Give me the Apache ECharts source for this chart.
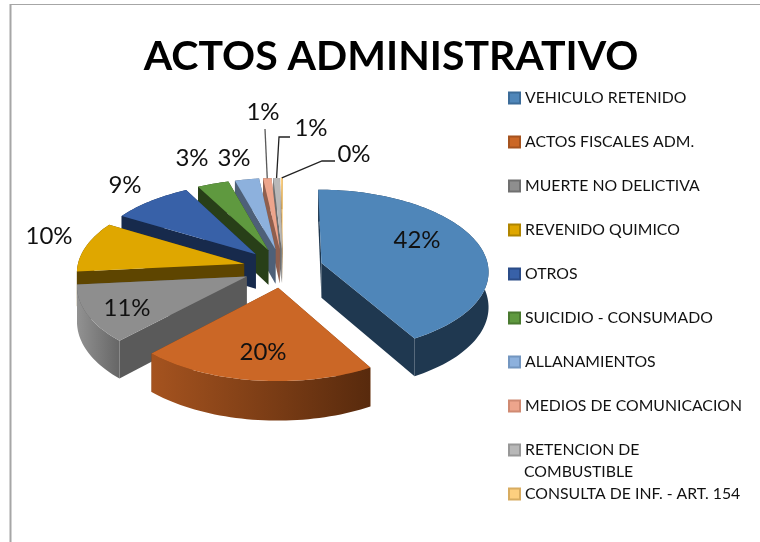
<!DOCTYPE html>
<html lang="es">
<head>
    <meta charset="UTF-8">
    <title>ACTOS ADMINISTRATIVO</title>
    <script src="https://cdn.jsdelivr.net/npm/echarts@6/dist/echarts.min.js"></script>
    <style>
        html, body { margin: 0; background: #fff; }
    </style>
</head>
<body>
    <div id="main" style="width: 760px; height: 542px;"></div>
    <script>
        var categories = ['VEHICULO RETENIDO', 'ACTOS FISCALES ADM.', 'MUERTE NO DELICTIVA', 'REVENIDO QUIMICO', 'OTROS',
            'SUICIDIO - CONSUMADO', 'ALLANAMIENTOS', 'MEDIOS DE COMUNICACION', 'RETENCION DE', 'CONSULTA DE INF. - ART. 154'];
        var values = [41.7, 20.4, 11.4, 10, 8.7, 3.4, 2.6, 0.9, 0.7, 0.2];
        var topColors = ['#4f86b9', '#cb6726', '#8e8e8e', '#dfa700', '#3861a8', '#5f993f', '#8db1dd', '#eda58c', '#b8b8b8', '#fdcf7f'];
        var sideColors = ['#1f3850', '#7a3d14', '#5a5a5a', '#5e4500', '#172a4c', '#283f18', '#4e6078', '#8f5f4e', '#6e6e6e', '#a08050'];
        var rimLeft = ['#1f3850', '#a5531f', '#929292', '#5e4500', '#172a4c', '#283f18', '#4e6078', '#8f5f4e', '#6e6e6e', '#a08050'];
        var rimRight = ['#1f3850', '#582a0d', '#666666', '#5e4500', '#172a4c', '#283f18', '#4e6078', '#8f5f4e', '#6e6e6e', '#a08050'];
        var legendBorders = ['#3c6c99', '#a5531f', '#707070', '#b08500', '#2b4c88', '#4a7a30', '#7396c0', '#d08a72', '#989898', '#d8ac60'];
        var labelX = [417, 263, 127, 49, 125, 192, 234, 263, 311, 354];
        var labelY = [240, 352, 308, 236, 185, 158, 158, 112, 128, 154];
        // leader lines for the three small slices: elbow then label end
        var leaderIndex = [7, 8, 9];
        var leaderElbowX = [265, 279, 322];
        var leaderElbowY = [129, 137, 161];
        var leaderEndX = [265, 290, 335];
        var leaderEndY = [129, 137, 161];
        var leaderColor = ['#595959', '#222222', '#222222'];

        var CX = 283, CY = 268, R = 167, EXPLODE = 40, TILT = 0.485, PERSP = 0.00055, DEPTH = 35;

        var total = values.reduce(function (a, b) { return a + b; }, 0);
        var starts = [];
        values.reduce(function (acc, v, i) { starts[i] = acc; return acc + v; }, 0);

        // ground plane (px, y toward the viewer) to screen
        function project(x, y, h) {
            var p = 1 / (1 - PERSP * y);
            return [CX + x * p, CY + y * TILT * p + h * DEPTH * p];
        }

        function sliceFaces(i) {
            var a0 = starts[i] / total * Math.PI * 2;
            var a1 = (starts[i] + values[i]) / total * Math.PI * 2;
            var mid = (a0 + a1) / 2;
            var ox = Math.sin(mid) * EXPLODE, oy = -Math.cos(mid) * EXPLODE;
            var steps = Math.max(2, Math.ceil((a1 - a0) / 0.03));
            var arc = [];
            for (var s = 0; s <= steps; s++) {
                var a = a0 + (a1 - a0) * s / steps;
                arc.push([ox + Math.sin(a) * R, oy - Math.cos(a) * R]);
            }
            var on = function (pt, h) { return project(pt[0], pt[1], h); };
            var top = [on([ox, oy], 0)].concat(arc.map(function (pt) { return on(pt, 0); }));
            var rimBottom = arc.map(function (pt) { return on(pt, 1); }).reverse();
            var rim = arc.map(function (pt) { return on(pt, 0); }).concat(rimBottom);
            var cut = function (pt) {
                return [on([ox, oy], 0), on(pt, 0), on(pt, 1), on([ox, oy], 1)];
            };
            return { top: top, rim: rim, cutA: cut(arc[0]), cutB: cut(arc[arc.length - 1]), rimMid: on(arc[Math.floor(steps / 2)], 0) };
        }

        function meanY(points) {
            return points.reduce(function (t, p) { return t + p[1]; }, 0) / points.length;
        }

        function renderSlice(i) {
            var f = sliceFaces(i);
            var rimFill = new echarts.graphic.LinearGradient(0, 0, 1, 0, [
                { offset: 0, color: rimLeft[i] }, { offset: 1, color: rimRight[i] }
            ]);
            var sides = [
                { points: f.cutA, fill: sideColors[i] },
                { points: f.cutB, fill: sideColors[i] },
                { points: f.rim, fill: rimFill }
            ].sort(function (a, b) { return meanY(a.points) - meanY(b.points); });
            var children = sides.map(function (side) {
                return { type: 'polygon', shape: { points: side.points }, style: { fill: side.fill } };
            });
            children.push({ type: 'polygon', shape: { points: f.top }, style: { fill: topColors[i] } });
            return { type: 'group', children: children };
        }

        var series = categories.map(function (name, i) {
            return {
                name: name,
                type: 'custom',
                coordinateSystem: 'none',
                z: 10 - i,
                silent: true,
                animation: false,
                itemStyle: { color: topColors[i], borderColor: legendBorders[i], borderWidth: 1 },
                data: [[values[i]]],
                renderItem: function () { return renderSlice(i); }
            };
        });

        // percent labels and leaders sit above every slice
        series.push({
            name: 'labels',
            type: 'custom',
            coordinateSystem: 'none',
            z: 20,
            silent: true,
            animation: false,
            data: [[0]],
            renderItem: function () {
                var children = leaderIndex.map(function (idx, n) {
                    var rim = sliceFaces(idx).rimMid;
                    return {
                        type: 'polyline',
                        shape: { points: [rim, [leaderElbowX[n], leaderElbowY[n]], [leaderEndX[n], leaderEndY[n]]] },
                        style: { fill: null, stroke: leaderColor[n], lineWidth: 1.3 }
                    };
                });
                values.forEach(function (v, i) {
                    children.push({
                        type: 'text',
                        style: {
                            text: Math.round(v / total * 100) + '%',
                            x: labelX[i], y: labelY[i],
                            align: 'center', verticalAlign: 'middle',
                            font: '24px Lato', fill: '#111'
                        }
                    });
                });
                return { type: 'group', children: children };
            }
        });

        var myChart = echarts.init(document.getElementById('main'));
        myChart.setOption({
            animation: false,
            backgroundColor: '#fff',
            title: {
                text: 'ACTOS ADMINISTRATIVO',
                left: 386, top: 31,
                textAlign: 'center',
                textStyle: { fontFamily: 'Lato', fontWeight: 'bold', fontSize: 41, color: '#000' }
            },
            legend: [{
                orient: 'vertical',
                left: 508, top: 90,
                padding: 0,
                itemWidth: 11, itemHeight: 11,
                itemGap: 28,
                icon: 'rect',
                selectedMode: false,
                data: categories.slice(0, 9),
                textStyle: { fontFamily: 'Lato', fontSize: 15.8, color: '#111', height: 16, lineHeight: 16 }
            }, {
                orient: 'vertical',
                left: 508, top: 486,
                padding: 0,
                itemWidth: 11, itemHeight: 11,
                icon: 'rect',
                selectedMode: false,
                data: categories.slice(9),
                textStyle: { fontFamily: 'Lato', fontSize: 15.8, color: '#111', height: 16, lineHeight: 16 }
            }],
            graphic: [
                // only the top and left edges of the chart frame are in view
                { type: 'line', silent: true, shape: { x1: 10, y1: 4.5, x2: 760, y2: 4.5 }, style: { stroke: '#a6a6a6', lineWidth: 1 } },
                { type: 'line', silent: true, shape: { x1: 10.5, y1: 4, x2: 10.5, y2: 542 }, style: { stroke: '#a6a6a6', lineWidth: 2 } },
                { type: 'text', silent: true, style: { text: 'COMBUSTIBLE', x: 524, y: 472, verticalAlign: 'middle', font: '15.8px Lato', fill: '#111' } }
            ],
            series: series
        });
    </script>
</body>
</html>
